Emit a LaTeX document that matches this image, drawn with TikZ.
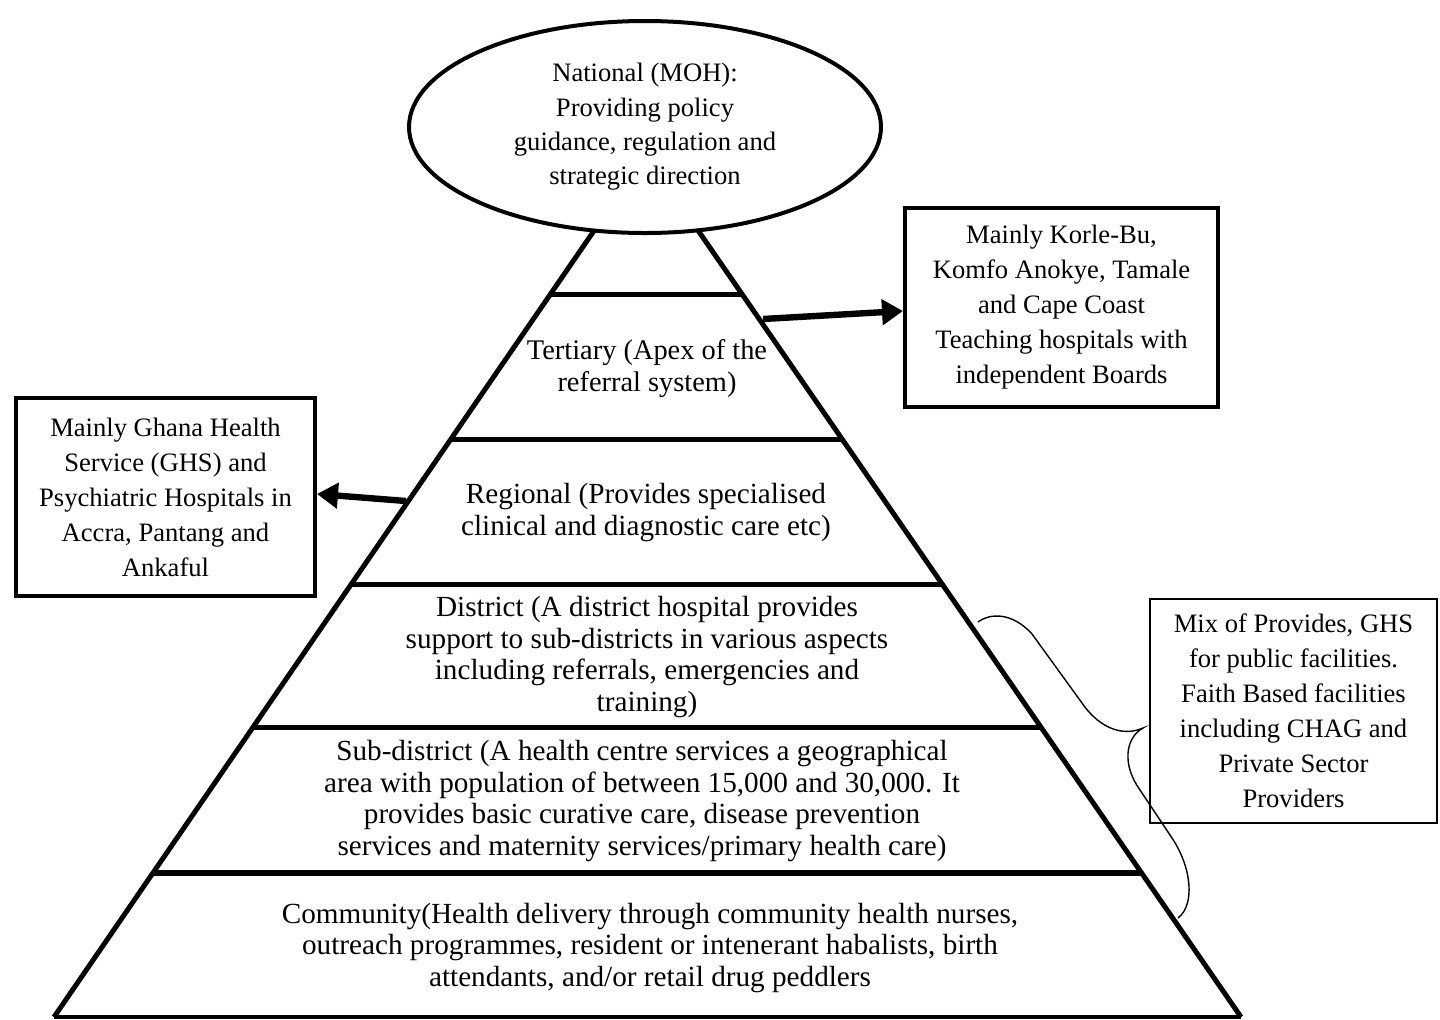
\documentclass[tikz,border=0pt]{standalone}
\usepackage{fontspec}
\setmainfont{Liberation Serif}
\usetikzlibrary{arrows.meta,calc,shapes.geometric}
\begin{document}
\begin{tikzpicture}[x=0.5pt,y=-0.5pt,
  side/.style={line width=2.5pt},
  tiertext/.style={align=center, anchor=base, inner sep=0pt, font=\fontsize{14.6}{15.75}\selectfont},
  boxtext/.style={align=center, font=\fontsize{13.3}{17.5}\selectfont},
  thickbox/.style={draw, line width=2pt, boxtext},
  thinbox/.style={draw, line width=1pt, boxtext},
  bigarrow/.style={line width=3.2pt, -{Triangle[length=10.5pt,width=12.5pt]}},
  bracepath/.style={line width=0.7pt}
]
\useasboundingbox (0,0) rectangle (1440,1019);
% pyramid
\coordinate (apex) at (646,155);
\coordinate (bl) at (54,1017);
\coordinate (br) at (1241,1017);
\draw[side] (bl) -- (apex) -- (br);
\draw[line width=2pt] (bl) -- (br);
\foreach \t/\w in {0.1624/2.5pt, 0.3295/2.5pt, 0.4977/2.5pt, 0.6647/2.5pt, 0.8329/3.4pt}
  \draw[line width=\w] ($(apex)!\t!(bl)$) -- ($(apex)!\t!(br)$);
% national ellipse
\node[ellipse, draw, line width=2pt, fill=white, minimum width=236pt, minimum height=106pt,
      inner sep=0pt, align=center, font=\fontsize{13.3}{17.15}\selectfont] (nat) at (645,127)
  {National (MOH):\\Providing policy\\guidance, regulation and\\strategic direction};
% tier texts (anchor = baseline of last line)
\node[tiertext, font=\fontsize{14.2}{15.75}\selectfont] (tert) at (647,391) {Tertiary (Apex of the\\referral system)};
\node[tiertext] (reg) at (646,535) {Regional (Provides specialised\\clinical and diagnostic care etc)};
\node[tiertext] (dist) at (647,711) {District (A district hospital provides\\support to sub-districts in various aspects\\including referrals, emergencies and\\training)};
\node[tiertext] (sub) at (642,855) {Sub-district (A health centre services a geographical\\area with population of between 15,000 and 30,000. It\\provides basic curative care, disease prevention\\services and maternity services/primary health care)};
\node[tiertext] (comm) at (650,986) {Community(Health delivery through community health nurses,\\outreach programmes, resident or intenerant habalists, birth\\attendants, and/or retail drug peddlers};
% side boxes
\node[thickbox, minimum width=156.5pt, minimum height=99.5pt] (rbox) at (1061.5,307.5)
  {Mainly Korle-Bu,\\Komfo Anokye, Tamale\\and Cape Coast\\Teaching hospitals with\\independent Boards};
\node[thickbox, minimum width=149.5pt, minimum height=99pt] (lbox) at (165.5,497)
  {Mainly Ghana Health\\Service (GHS) and\\Psychiatric Hospitals in\\Accra, Pantang and\\Ankaful};
\node[thinbox, minimum width=143.5pt, minimum height=112pt] (mix) at (1293.5,711)
  {Mix of Provides, GHS\\for public facilities.\\Faith Based facilities\\including CHAG and\\Private Sector\\Providers};
% arrows
\coordinate (ta) at (763,319);
\coordinate (la) at (406,501);
\draw[bigarrow] (ta) -- ([yshift=-1.75pt]rbox.west);
\draw[bigarrow] (la) -- ([yshift=1.5pt]lbox.east);
% brace
\draw[bracepath] (978,622) .. controls (990,613) and (1012,612) .. (1032,634)
  -- (1082,703) .. controls (1097,725) and (1120,738) .. (1143,728)
  .. controls (1125,738) and (1122,765) .. (1140,790)
  -- (1172,838) .. controls (1192,868) and (1195,905) .. (1178,918);
\end{tikzpicture}
\end{document}
